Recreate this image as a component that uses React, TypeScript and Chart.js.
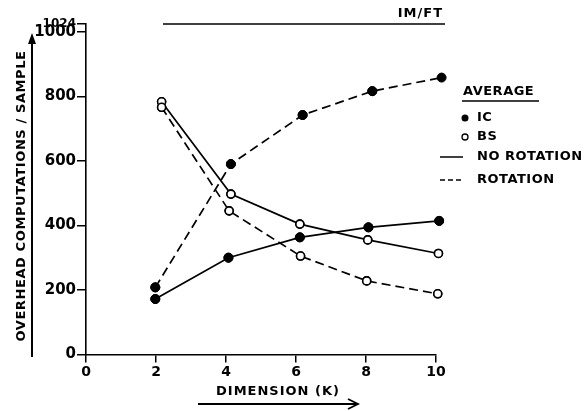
import React, { useEffect, useRef } from "react";
import { Chart, registerables } from "chart.js";

Chart.register(...registerables);

// Tick labels
const xTicks = [0, 2, 4, 6, 8, 10];
const yTicks = [0, 200, 400, 600, 800, 1000, 1024];

// IC, no rotation (solid, filled)
const icNoRotX = [1.98, 4.07, 6.11, 8.07, 10.09];
const icNoRot = [172, 300, 363, 394, 414];
// IC, rotation (dashed, filled)
const icRotX = [1.98, 4.14, 6.19, 8.18, 10.16];
const icRot = [208, 590, 742, 816, 858];
// BS, no rotation (solid, open)
const bsNoRotX = [2.16, 4.14, 6.11, 8.05, 10.07];
const bsNoRot = [783, 497, 404, 355, 313];
// BS, rotation (dashed, open)
const bsRotX = [2.16, 4.09, 6.13, 8.02, 10.05];
const bsRot = [766, 445, 305, 228, 188];

const FONT = "'DejaVu Sans', sans-serif";

const toPts = (xs: number[], ys: number[]) => xs.map((x, i) => ({ x, y: ys[i] }));

// Redraw point markers without area clipping (points slightly past x=10)
const unclippedPoints = {
  id: "unclippedPoints",
  afterDatasetsDraw(chart: any) {
    const ctx = chart.ctx;
    chart.data.datasets.forEach((_: any, i: number) => {
      const meta = chart.getDatasetMeta(i);
      meta.data.forEach((pt: any) => pt.draw(ctx));
    });
  },
};

const decor = {
  id: "decor",
  afterDraw(chart: any) {
    const ctx = chart.ctx as CanvasRenderingContext2D;
    const area = chart.chartArea;
    ctx.save();
    ctx.fillStyle = "#000";
    ctx.strokeStyle = "#000";

    // Y axis title with arrow
    ctx.save();
    ctx.translate(22, 196);
    ctx.rotate(-Math.PI / 2);
    ctx.font = `bold 13px ${FONT}`;
    (ctx as any).letterSpacing = "0.6px";
    ctx.textAlign = "center";
    ctx.textBaseline = "middle";
    ctx.fillText("OVERHEAD COMPUTATIONS / SAMPLE", 0, 0);
    ctx.restore();
    ctx.lineWidth = 2;
    ctx.beginPath();
    ctx.moveTo(32, 357);
    ctx.lineTo(32, 38);
    ctx.stroke();
    ctx.beginPath();
    ctx.moveTo(32, 33);
    ctx.lineTo(28, 44);
    ctx.lineTo(36, 44);
    ctx.closePath();
    ctx.fill();

    // X axis title with arrow
    ctx.save();
    ctx.font = `bold 13px ${FONT}`;
    (ctx as any).letterSpacing = "1px";
    ctx.textAlign = "center";
    ctx.textBaseline = "middle";
    ctx.fillText("DIMENSION (K)", 278, 392);
    ctx.restore();
    ctx.lineWidth = 1.8;
    ctx.beginPath();
    ctx.moveTo(198, 404);
    ctx.lineTo(356, 404);
    ctx.stroke();
    ctx.beginPath();
    ctx.moveTo(348, 399);
    ctx.lineTo(358, 404);
    ctx.lineTo(348, 409);
    ctx.stroke();

    // Top line and IM/FT label
    ctx.lineWidth = 1.5;
    ctx.beginPath();
    ctx.moveTo(163, area.top);
    ctx.lineTo(445, area.top);
    ctx.stroke();
    ctx.save();
    ctx.font = `bold 13px ${FONT}`;
    (ctx as any).letterSpacing = "1px";
    ctx.textAlign = "right";
    ctx.textBaseline = "middle";
    ctx.fillText("IM/FT", 443, 14);
    ctx.restore();

    // Legend
    ctx.save();
    ctx.font = `bold 13px ${FONT}`;
    (ctx as any).letterSpacing = "0.5px";
    ctx.textBaseline = "middle";
    ctx.textAlign = "left";
    ctx.fillText("AVERAGE", 463, 92);
    ctx.lineWidth = 1.5;
    ctx.beginPath();
    ctx.moveTo(462, 101);
    ctx.lineTo(539, 101);
    ctx.stroke();

    ctx.beginPath();
    ctx.arc(465, 118, 3.5, 0, Math.PI * 2);
    ctx.fill();
    ctx.fillText("IC", 477, 118);

    ctx.lineWidth = 1.3;
    ctx.beginPath();
    ctx.arc(465, 137, 3, 0, Math.PI * 2);
    ctx.stroke();
    ctx.fillText("BS", 477, 137);

    ctx.lineWidth = 1.5;
    ctx.beginPath();
    ctx.moveTo(440, 157);
    ctx.lineTo(463, 157);
    ctx.stroke();
    ctx.fillText("NO ROTATION", 477, 157);

    ctx.setLineDash([5, 3]);
    ctx.beginPath();
    ctx.moveTo(440, 180);
    ctx.lineTo(463, 180);
    ctx.stroke();
    ctx.setLineDash([]);
    ctx.fillText("ROTATION", 477, 180);
    ctx.restore();

    ctx.restore();
  },
};

export default function App() {
  const ref = useRef<HTMLCanvasElement | null>(null);

  useEffect(() => {
    if (!ref.current) return;
    const filled = {
      pointStyle: "circle",
      pointRadius: 4.5,
      pointBackgroundColor: "#000",
      pointBorderColor: "#000",
      pointBorderWidth: 1,
    };
    const open = {
      pointStyle: "circle",
      pointRadius: 4,
      pointBackgroundColor: "#fff",
      pointBorderColor: "#000",
      pointBorderWidth: 1.6,
    };
    const common = {
      showLine: true,
      borderColor: "#000",
      borderWidth: 1.7,
      tension: 0,
      clip: false,
    };
    const chart = new Chart(ref.current, {
      type: "scatter",
      data: {
        datasets: [
          { label: "IC no rotation", data: toPts(icNoRotX, icNoRot), ...common, ...filled },
          { label: "IC rotation", data: toPts(icRotX, icRot), ...common, borderDash: [9, 5], ...filled },
          { label: "BS no rotation", data: toPts(bsNoRotX, bsNoRot), ...common, ...open },
          { label: "BS rotation", data: toPts(bsRotX, bsRot), ...common, borderDash: [9, 5], ...open },
        ] as any,
      },
      options: {
        animation: false,
        responsive: false,
        devicePixelRatio: 1,
        layout: { padding: { left: 0, top: 24, right: 151, bottom: 0 } },
        plugins: {
          legend: { display: false },
          tooltip: { enabled: false },
          title: { display: false },
        },
        scales: {
          x: {
            type: "linear",
            min: 0,
            max: 10,
            afterBuildTicks: (s: any) => {
              s.ticks = xTicks.map((v) => ({ value: v }));
            },
            afterFit: (s: any) => {
              s.height = 56.5;
            },
            border: { display: true, color: "#000", width: 1.6 },
            grid: {
              drawOnChartArea: false,
              drawTicks: true,
              tickLength: 8,
              color: "#000",
              lineWidth: 1.5,
            },
            ticks: {
              color: "#000",
              padding: 1,
              font: { family: FONT, size: 14, weight: "bold" },
              callback: (v: any) => String(v),
            },
          },
          y: {
            type: "linear",
            min: 0,
            max: 1024,
            afterBuildTicks: (s: any) => {
              s.ticks = yTicks.map((v) => ({ value: v }));
            },
            afterFit: (s: any) => {
              s.width = 86;
            },
            border: { display: true, color: "#000", width: 1.6 },
            grid: {
              drawOnChartArea: false,
              drawTicks: true,
              tickLength: 9,
              color: "#000",
              lineWidth: 1.5,
            },
            ticks: {
              color: "#000",
              padding: 1,
              autoSkip: false,
              font: (c: any) =>
                c.tick && c.tick.value === 1024
                  ? { family: FONT, size: 12, weight: "bold" }
                  : { family: FONT, size: 15, weight: "bold" },
              callback: (v: any) => String(v),
            },
          },
        },
      },
      plugins: [unclippedPoints, decor],
    } as any);
    return () => chart.destroy();
  }, []);

  return (
    <div style={{ position: "fixed", left: 0, top: 0, width: 587, height: 411, background: "#fff" }}>
      <canvas ref={ref} width={587} height={411} style={{ width: 587, height: 411 }} />
    </div>
  );
}
